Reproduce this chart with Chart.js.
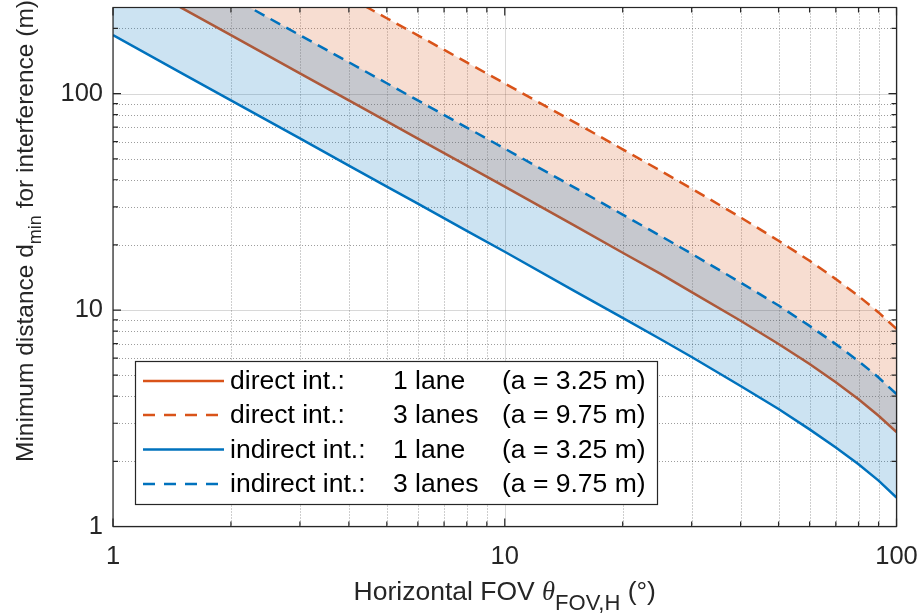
<!DOCTYPE html>
<html>
<head>
<meta charset="utf-8">
<script src="https://cdn.jsdelivr.net/npm/chart.js@4.4.1/dist/chart.umd.min.js"></script>
<style>
  html, body { margin: 0; padding: 0; background: #fff; }
  #wrap { width: 921px; height: 615px; }
</style>
</head>
<body>
<div id="wrap"><canvas id="chart" width="921" height="615"></canvas></div>
<script>
// horizontal FOV (deg) where the curves were read
const fovDeg    = [1, 1.5, 2, 3, 4, 5, 6, 8, 10, 15, 20, 25, 30, 40, 50, 60, 70, 80, 90, 100];
// minimum distance (m)
const direct1   = [372.4, 248.3, 186.2, 124.1, 93.1, 74.4, 62.0, 46.5, 37.2, 24.7, 18.4, 14.7, 12.1, 8.93, 6.97, 5.63, 4.64, 3.87, 3.25, 2.73];
const direct3   = [1117, 745, 559, 372, 279, 223, 186, 139.4, 111.4, 74.1, 55.3, 44.0, 36.4, 26.8, 20.9, 16.9, 13.9, 11.6, 9.75, 8.18];
const indirect1 = [186.2, 124.1, 93.1, 62.1, 46.5, 37.2, 31.0, 23.2, 18.6, 12.3, 9.2, 7.33, 6.07, 4.46, 3.49, 2.81, 2.32, 1.94, 1.63, 1.36];
const indirect3 = [558.6, 372.4, 279.3, 186.2, 139.6, 111.7, 93.0, 69.7, 55.7, 37.0, 27.6, 22.0, 18.2, 13.4, 10.5, 8.45, 6.96, 5.81, 4.88, 4.09];

const xTickVals  = [1, 10, 100];
const xMinorVals = [2, 3, 4, 5, 6, 7, 8, 9, 20, 30, 40, 50, 60, 70, 80, 90];
const yTickVals  = [1, 10, 100];
const yMinorVals = [2, 3, 4, 5, 6, 7, 8, 9, 20, 30, 40, 50, 60, 70, 80, 90, 200];

const legendKind  = ['direct int.:', 'direct int.:', 'indirect int.:', 'indirect int.:'];
const legendLanes = ['1 lane', '3 lanes', '1 lane', '3 lanes'];
const legendWidth = ['(a = 3.25 m)', '(a = 9.75 m)', '(a = 3.25 m)', '(a = 9.75 m)'];

const ORANGE = '#D95319', BLUE = '#0072BD', AXIS = '#262626';
const SANS = '"Liberation Sans", Arial, sans-serif';

const pts = ys => fovDeg.map((x, i) => ({x, y: ys[i]}));

function richText(ctx, parts, x, y){
    // parts: [text, font, dy]; drawn centred on x
    let total = 0;
    parts.forEach(p => { ctx.font = p[1]; total += ctx.measureText(p[0]).width; });
    let cx = x - total / 2;
    parts.forEach(p => {
        ctx.font = p[1];
        ctx.fillText(p[0], cx, y + (p[2] || 0));
        cx += ctx.measureText(p[0]).width;
    });
}

function noPad(s){ s.paddingTop = 0; s.paddingBottom = 0; s.paddingLeft = 0; s.paddingRight = 0; }

const decor = {
    id: 'decor',
    beforeDatasetsDraw(chart){
        const {ctx, chartArea: a, scales: {x, y}} = chart;
        ctx.save();
        ctx.lineWidth = 1;
        ctx.strokeStyle = 'rgba(38,38,38,0.45)';
        ctx.setLineDash([1, 2]);
        ctx.beginPath();
        xMinorVals.forEach(v => { const px = Math.round(x.getPixelForValue(v)) + 0.5; ctx.moveTo(px, a.top); ctx.lineTo(px, a.bottom); });
        yMinorVals.forEach(v => { const py = Math.round(y.getPixelForValue(v)) + 0.5; ctx.moveTo(a.left, py); ctx.lineTo(a.right, py); });
        ctx.stroke();
        ctx.setLineDash([]);
        ctx.strokeStyle = 'rgba(38,38,38,0.18)';
        ctx.beginPath();
        xTickVals.forEach(v => { const px = Math.round(x.getPixelForValue(v)) + 0.5; ctx.moveTo(px, a.top); ctx.lineTo(px, a.bottom); });
        yTickVals.forEach(v => { const py = Math.round(y.getPixelForValue(v)) + 0.5; ctx.moveTo(a.left, py); ctx.lineTo(a.right, py); });
        ctx.stroke();
        ctx.restore();
    },
    afterDatasetsDraw(chart){
        const {ctx, chartArea: a, scales: {x, y}} = chart;
        ctx.save();
        ctx.strokeStyle = AXIS;
        ctx.lineWidth = 1.2;
        ctx.beginPath();
        const tickX = (v, len) => { const px = x.getPixelForValue(v); ctx.moveTo(px, a.bottom); ctx.lineTo(px, a.bottom - len); ctx.moveTo(px, a.top); ctx.lineTo(px, a.top + len); };
        const tickY = (v, len) => { const py = y.getPixelForValue(v); ctx.moveTo(a.left, py); ctx.lineTo(a.left + len, py); ctx.moveTo(a.right, py); ctx.lineTo(a.right - len, py); };
        xTickVals.forEach(v => tickX(v, 8));
        xMinorVals.forEach(v => tickX(v, 5));
        yTickVals.forEach(v => tickY(v, 8));
        yMinorVals.forEach(v => tickY(v, 5));
        ctx.stroke();
        ctx.strokeRect(a.left, a.top, a.right - a.left, a.bottom - a.top);
        ctx.restore();
    },
    afterDraw(chart){
        const {ctx, chartArea: a} = chart;
        ctx.save();
        ctx.fillStyle = AXIS;
        ctx.textBaseline = 'alphabetic';
        // x title
        richText(ctx, [
            ['Horizontal FOV ', '26.5px ' + SANS],
            ['\u03B8', 'italic 26.5px "Liberation Serif", serif'],
            ['FOV,H', '22px ' + SANS, 10],
            [' (\u00B0)', '26.5px ' + SANS]
        ], (a.left + a.right) / 2, 600);
        // y title
        ctx.translate(33, 231);
        ctx.rotate(-Math.PI / 2);
        richText(ctx, [
            ['Minimum distance d', '24.5px ' + SANS],
            ['min', '18px ' + SANS, 8],
            [' for interference (m)', '24.5px ' + SANS]
        ], 0, 0);
        ctx.restore();

        // legend
        const box = {l: 135, t: 361, r: 657, b: 504};
        const rowY = [381, 415, 449.5, 484];
        ctx.save();
        ctx.fillStyle = '#fff';
        ctx.fillRect(box.l, box.t, box.r - box.l, box.b - box.t);
        ctx.strokeStyle = AXIS;
        ctx.lineWidth = 1.2;
        ctx.strokeRect(box.l + 0.5, box.t + 0.5, box.r - box.l, box.b - box.t);
        const ds = chart.data.datasets;
        const legendOrder = [0, 1, 3, 2];
        ctx.font = '26.5px ' + SANS;
        ctx.textBaseline = 'middle';
        rowY.forEach((yy, i) => {
            const d = ds[legendOrder[i]];
            ctx.strokeStyle = d.borderColor;
            ctx.lineWidth = d.borderWidth;
            ctx.setLineDash(d.borderDash.length ? [12, 9] : []);
            ctx.beginPath();
            ctx.moveTo(143, yy); ctx.lineTo(224, yy);
            ctx.stroke();
            ctx.setLineDash([]);
            ctx.fillStyle = '#000';
            ctx.fillText(legendKind[i], 230, yy + 1);
            ctx.fillText(legendLanes[i], 393, yy + 1);
            ctx.fillText(legendWidth[i], 502, yy + 1);
        });
        ctx.restore();
    }
};

const common = {pointRadius: 0, borderWidth: 2.5, tension: 0};

new Chart(document.getElementById('chart'), {
    type: 'line',
    data: {
        datasets: [
            {...common, label: 'direct int.: 1 lane (a = 3.25 m)', data: pts(direct1), borderColor: ORANGE, borderDash: [],
             fill: 1, backgroundColor: 'rgba(217,83,25,0.2)', order: 4},
            {...common, label: 'direct int.: 3 lanes (a = 9.75 m)', data: pts(direct3), borderColor: ORANGE, borderDash: [11, 7],
             fill: false, order: 3},
            {...common, label: 'indirect int.: 3 lanes (a = 9.75 m)', data: pts(indirect3), borderColor: BLUE, borderDash: [11, 7],
             fill: 3, backgroundColor: 'rgba(0,114,189,0.2)', order: 2},
            {...common, label: 'indirect int.: 1 lane (a = 3.25 m)', data: pts(indirect1), borderColor: BLUE, borderDash: [],
             fill: false, order: 1}
        ]
    },
    options: {
        responsive: false,
        animation: false,
        devicePixelRatio: 1,
        layout: {padding: {top: 7.5, right: 24.5, left: 0, bottom: 0}},
        plugins: {legend: {display: false}, tooltip: {enabled: false}},
        scales: {
            x: {
                type: 'logarithmic', min: 1, max: 100,
                grid: {display: false, drawTicks: false},
                border: {display: false},
                afterBuildTicks: s => { s.ticks = xTickVals.map(v => ({value: v})); },
                afterFit: s => { s.height = 88.5; noPad(s); },
                ticks: {color: AXIS, font: {family: SANS, size: 25.5}, padding: 15.5, maxRotation: 0, autoSkip: false,
                        callback: v => String(v)}
            },
            y: {
                type: 'logarithmic', min: 1, max: 250,
                grid: {display: false, drawTicks: false},
                border: {display: false},
                afterBuildTicks: s => { s.ticks = yTickVals.map(v => ({value: v})); },
                afterFit: s => { s.width = 113; noPad(s); },
                ticks: {color: AXIS, font: {family: SANS, size: 25.5}, padding: 10, autoSkip: false,
                        callback: v => String(v)}
            }
        }
    },
    plugins: [decor]
});
</script>
</body>
</html>
